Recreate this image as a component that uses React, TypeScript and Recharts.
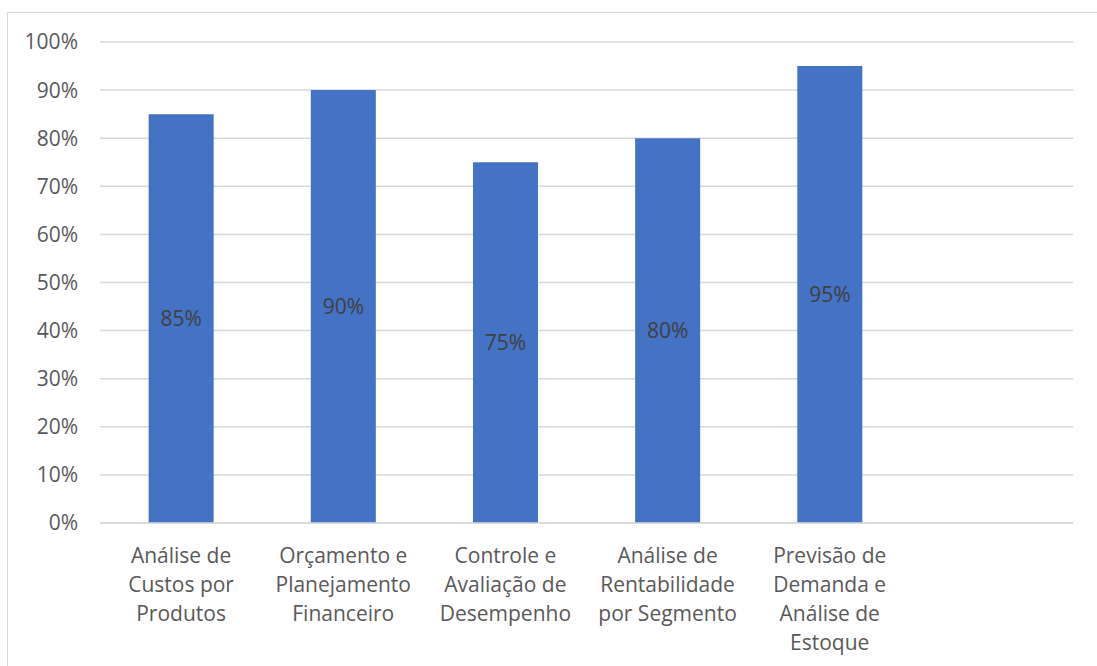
import React from 'react'
import { BarChart, Bar, XAxis, YAxis, CartesianGrid, LabelList } from 'recharts'

// categories as wrapped in the original, one entry per slot (last slot is empty)
const categories = [
  'Análise de\nCustos por\nProdutos',
  'Orçamento e\nPlanejamento\nFinanceiro',
  'Controle e\nAvaliação de\nDesempenho',
  'Análise de\nRentabilidade\npor Segmento',
  'Previsão de\nDemanda e\nAnálise de\nEstoque',
  '',
]
const values: (number | null)[] = [85, 90, 75, 80, 95, null]
const yTicks = [0, 10, 20, 30, 40, 50, 60, 70, 80, 90, 100]

const data = categories.map((name, i) => ({ name, value: values[i] }))

const FONT = '"Open Sans", "Liberation Sans", sans-serif'

const CategoryTick = (props: any) => {
  const { x, y, payload } = props
  const lines = String(payload.value).split('\n')
  return (
    <text
      x={x}
      y={y}
      textAnchor="middle"
      fill="#595959"
      fontSize={21}
      fontFamily={FONT}
    >
      {lines.map((line, i) => (
        <tspan key={i} x={x} y={y + 40 + i * 29}>
          {line}
        </tspan>
      ))}
    </text>
  )
}

export default function App() {
  return (
    <div style={{ position: 'absolute', left: 0, top: 0, width: 1097, height: 666, background: '#fff' }}>
      <div
        style={{
          position: 'absolute',
          left: 7,
          top: 12,
          width: 1100,
          height: 670,
          border: '1px solid #d9d9d9',
          boxSizing: 'border-box',
        }}
      />
      <div style={{ position: 'absolute', left: 0, top: 0 }}>
        <BarChart
          width={1097}
          height={666}
          data={data}
          margin={{ top: 42, right: 24, bottom: 0, left: 0 }}
          barCategoryGap="30%"
        >
          <CartesianGrid vertical={false} stroke="#d9d9d9" strokeWidth={1.5} />
          <XAxis
            dataKey="name"
            height={143}
            interval={0}
            tickLine={false}
            tickSize={0}
            tickMargin={0}
            axisLine={{ stroke: '#d9d9d9', strokeWidth: 1.5 }}
            tick={<CategoryTick />}
          />
          <YAxis
            width={100}
            domain={[0, 100]}
            ticks={yTicks}
            interval={0}
            axisLine={false}
            tickLine={false}
            tickSize={0}
            tickMargin={22}
            tickFormatter={(v: number) => `${v}%`}
            tick={{ fill: '#595959', fontSize: 21, fontFamily: FONT }}
          />
          <Bar dataKey="value" fill="#4472C4" isAnimationActive={false}>
            <LabelList
              dataKey="value"
              position="center"
              formatter={(v: any) => (v == null ? '' : `${v}%`)}
              fill="#404040"
              fontSize={21}
              fontFamily={FONT}
            />
          </Bar>
        </BarChart>
      </div>
    </div>
  )
}
